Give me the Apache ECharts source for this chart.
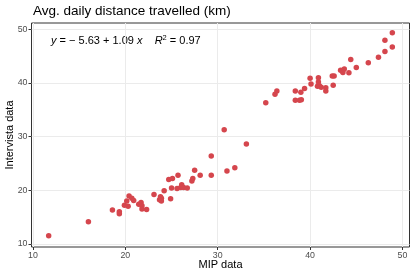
<!DOCTYPE html>
<html>
<head>
<meta charset="utf-8">
<script src="https://cdn.jsdelivr.net/npm/echarts@6/dist/echarts.min.js"></script>
<style>html,body{margin:0;padding:0;background:#fff}#c{width:415px;height:277px}</style>
</head>
<body>
<div id="c"></div>
<script>
// MIP data (x) and Intervista data (y)
const mipData = [11.7,16.0,18.6,19.35,19.35,19.9,20.15,20.3,20.4,20.7,20.9,21.45,21.7,21.8,21.8,22.3,23.1,23.7,23.8,23.9,23.9,24.2,24.9,24.7,25.1,25.7,25.0,25.6,26.1,26.0,26.3,26.7,27.2,27.3,27.5,28.1,29.3,29.3,30.7,31.0,31.85,33.1,35.2,36.2,36.4,38.4,38.4,38.85,39.05,39.0,39.4,40.0,40.1,40.8,41.0,41.2,40.9,40.9,41.7,41.7,42.4,42.6,42.5,43.3,43.5,43.55,43.7,44.2,44.4,45.0,46.3,47.4,48.1,48.9,48.1,48.9];
const intervistaData = [11.5,14.1,16.3,16.0,15.6,17.2,18.0,17.0,18.9,18.5,18.1,17.4,17.7,17.1,16.5,16.4,19.2,18.2,18.8,18.5,18.0,19.9,18.4,22.0,22.2,22.8,20.4,20.3,21.0,20.5,20.5,20.4,21.7,22.2,23.7,22.8,26.4,22.8,31.3,23.6,24.2,28.6,36.3,37.9,38.5,38.5,36.8,36.8,36.9,38.3,39.0,40.9,39.8,39.4,39.5,39.2,40.2,41.0,39.1,38.5,41.3,41.3,39.6,42.4,42.2,41.95,42.6,41.9,44.4,42.9,43.8,44.8,45.9,46.7,48.0,49.4];
const xTicks = [10,20,30,40,50];
const yTicks = [10,20,30,40,50];
const titleText = 'Avg. daily distance travelled (km)';

const points = mipData.map((x,i)=>[x, intervistaData[i]]);
const font = 'Liberation Sans, Arial, sans-serif';
const chart = echarts.init(document.getElementById('c'), null, {renderer:'canvas'});
chart.setOption({
  animation:false,
  backgroundColor:'#ffffff',
  title:{text:titleText,left:33,top:4,padding:0,textStyle:{fontFamily:font,fontSize:13.5,fontWeight:'normal',color:'#000'}},
  grid:{left:31.5,right:5.5,top:23,bottom:30,outerBoundsMode:'none',containLabel:false,show:true,borderColor:'#333333',borderWidth:1,backgroundColor:'transparent'},
  xAxis:{type:'value',min:9.84,max:50.76,interval:5,
    name:'MIP data',nameLocation:'middle',nameGap:12,nameMoveOverlap:false,nameTextStyle:{fontFamily:font,fontSize:11,color:'#000'},
    axisLine:{show:false},
    axisTick:{show:true,length:3,customValues:xTicks,lineStyle:{color:'#333'}},
    axisLabel:{customValues:xTicks,margin:4,fontFamily:font,fontSize:8.8,color:'#4d4d4d'},
    splitLine:{show:true,lineStyle:{color:'#ebebeb',width:1}}},
  yAxis:{type:'value',min:9.4,max:51.2,interval:5,
    name:'Intervista data',nameLocation:'middle',nameGap:16,nameMoveOverlap:false,nameTextStyle:{fontFamily:font,fontSize:11,color:'#000'},
    axisLine:{show:false},
    axisTick:{show:true,length:3,customValues:yTicks,lineStyle:{color:'#333'}},
    axisLabel:{customValues:yTicks,margin:4,fontFamily:font,fontSize:8.8,color:'#4d4d4d'},
    splitLine:{show:true,lineStyle:{color:'#ebebeb',width:1}}},
  graphic:[{type:'text',left:51,top:34,style:{
    text:'{i|y} = − 5.63 + 1.09 {i|x}    {i|R}{s|2} = 0.97',
    font:'11px '+font,fill:'#000',
    rich:{i:{fontStyle:'italic',fontSize:11,fontFamily:font},s:{fontSize:7.5,fontFamily:font,verticalAlign:'top',lineHeight:13}}
  }}],
  series:[{type:'scatter',data:points,symbolSize:5.5,itemStyle:{color:'#d5464d',opacity:1},z:5}]
});
</script>
</body>
</html>
